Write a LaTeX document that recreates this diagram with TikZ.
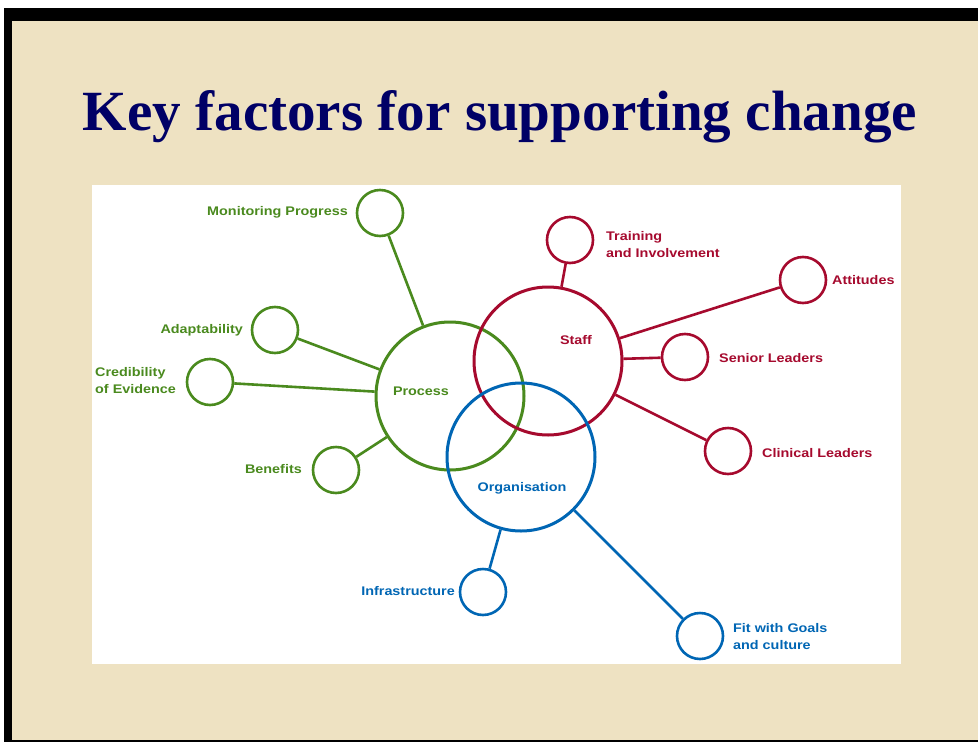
\documentclass[tikz,border=0pt]{standalone}
\usepackage{fontspec}
\setmainfont{Liberation Serif}
\setsansfont{Liberation Sans}
\newfontfamily\lblfont[FakeStretch=1.15]{Liberation Sans Bold}
\usetikzlibrary{calc}
\definecolor{beige}{RGB}{238,226,194}
\definecolor{navy}{RGB}{0,0,102}
\definecolor{pgreen}{RGB}{74,138,30}
\definecolor{sred}{RGB}{166,10,46}
\definecolor{oblue}{RGB}{0,102,180}
\tikzset{
  big/.style={circle,draw,line width=3pt,minimum size=148pt,inner sep=0pt},
  small/.style={circle,draw,line width=2.6pt,minimum size=46pt,inner sep=0pt},
  link/.style={line width=2.6pt},
  lbl/.style={font=\lblfont\fontsize{12.5}{17}\selectfont,inner sep=0pt,align=left},
}
\begin{document}
\begin{tikzpicture}[x=1pt,y=-1pt]
\useasboundingbox (0,0) rectangle (978,742);
% frame and background
\fill[white] (0,0) rectangle (978,742);
\fill[black] (4,8) rectangle (978,742);
\fill[beige] (12,21) rectangle (978,740);
% title
\node[anchor=base,text=navy,inner sep=0pt] (title) at (500,130)
  {\resizebox{834pt}{40pt}{\bfseries Key factors for supporting change}};
% white panel
\fill[white] (92,185) rectangle (901,664);
% big circles
\node[big,draw=pgreen] (process) at (450,396) {};
\node[big,draw=sred] (staff) at (548,361) {};
\node[big,draw=oblue] (org) at (521,457) {};
% small circles - process
\node[small,draw=pgreen] (mon) at (380,213) {};
\node[small,draw=pgreen] (adapt) at (275,330) {};
\node[small,draw=pgreen] (cred) at (210,382) {};
\node[small,draw=pgreen] (ben) at (336,470) {};
% small circles - staff
\node[small,draw=sred] (train) at (570,240) {};
\node[small,draw=sred] (att) at (803,280) {};
\node[small,draw=sred] (sen) at (685,357) {};
\node[small,draw=sred] (clin) at (728,451) {};
% small circles - organisation
\node[small,draw=oblue] (infra) at (483,592) {};
\node[small,draw=oblue] (fit) at (700,636) {};
% connectors
\draw[link,pgreen] (mon) -- (process);
\draw[link,pgreen] (adapt) -- (process);
\draw[link,pgreen] (cred) -- (process);
\draw[link,pgreen] (ben) -- (process);
\draw[link,sred] (train) -- (staff);
\draw[link,sred] (att) -- (staff);
\draw[link,sred] (sen) -- (staff);
\draw[link,sred] (clin) -- (staff);
\draw[link,oblue] (infra) -- (org);
\draw[link,oblue] (fit) -- (org);
% labels
\node[lbl,text=pgreen,anchor=east] (lmon) at (348,212) {Monitoring Progress};
\node[lbl,text=pgreen,anchor=east] (ladapt) at (243,330) {Adaptability};
\node[lbl,text=pgreen,anchor=west] (lcred) at (95,381) {Credibility\\of Evidence};
\node[lbl,text=pgreen,anchor=east] (lben) at (302,469) {Benefits};
\node[lbl,text=pgreen] (lproc) at (421,391) {Process};
\node[lbl,text=sred,anchor=west] (ltrain) at (606,245) {Training\\and Involvement};
\node[lbl,text=sred,anchor=west] (latt) at (832,280) {Attitudes};
\node[lbl,text=sred] (lstaff) at (576,340) {Staff};
\node[lbl,text=sred,anchor=west] (lsen) at (719,358) {Senior Leaders};
\node[lbl,text=sred,anchor=west] (lclin) at (762,453) {Clinical Leaders};
\node[lbl,text=oblue] (lorg) at (522,488) {Organisation};
\node[lbl,text=oblue,anchor=east] (linfra) at (455,591) {Infrastructure};
\node[lbl,text=oblue,anchor=west] (lfit) at (733,637) {Fit with Goals\\and culture};
\end{tikzpicture}
\end{document}
